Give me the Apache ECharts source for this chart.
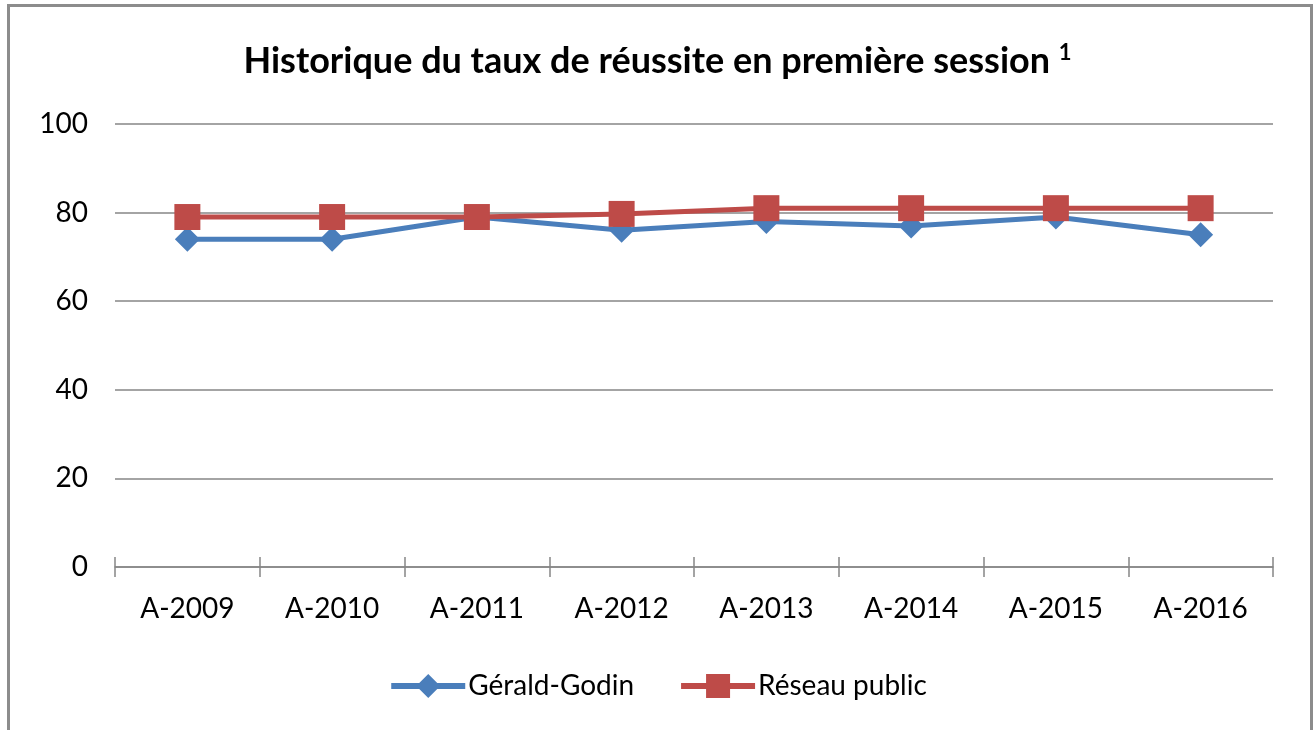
<!DOCTYPE html>
<html>
<head>
<meta charset="utf-8">
<script src="https://cdn.jsdelivr.net/npm/echarts@6/dist/echarts.min.js"></script>
<style>
  html, body { margin: 0; padding: 0; background: #fff; }
  .frame {
    position: absolute;
    left: 7px;
    top: 4px;
    width: 1306px;
    height: 740px;
    border: 3px solid #8c8c8c;
    box-sizing: border-box;
  }
  #main { position: absolute; left: 0; top: 0; width: 1315px; height: 730px; }
</style>
</head>
<body>
<div class="frame"></div>
<div id="main"></div>
<script>
  // données
  const categories = ['A-2009', 'A-2010', 'A-2011', 'A-2012', 'A-2013', 'A-2014', 'A-2015', 'A-2016']
  const geraldGodin = [74, 74, 79, 76, 78, 77, 79, 75]
  const reseauPublic = [79, 79, 79, 79.7, 81, 81, 81, 81]
  const yTicks = [0, 20, 40, 60, 80, 100]

  const font = 'Lato, "Open Sans", sans-serif'
  const myChart = echarts.init(document.getElementById('main'))

  const option = {
    animation: false,
    textStyle: { fontFamily: font },
    title: {
      text: '{t|Historique du taux de réussite en première session }{s|1}',
      left: 'center',
      top: 37,
      textStyle: {
        rich: {
          t: { fontFamily: font, fontSize: 36, fontWeight: 'bold', color: '#000' },
          s: { fontFamily: font, fontSize: 22, fontWeight: 'bold', color: '#000', verticalAlign: 'top', padding: [0, 0, 16, 0] }
        }
      }
    },
    legend: {
      bottom: 25,
      left: 'center',
      itemWidth: 74,
      itemHeight: 30,
      itemGap: 44,
      textStyle: { fontFamily: font, fontSize: 28, color: '#000', padding: [0, 0, 0, -2] },
      data: [
        { name: 'Gérald-Godin', lineStyle: { width: 6 } },
        { name: 'Réseau public', lineStyle: { width: 6 } }
      ]
    },
    grid: { left: 115, right: 42, top: 124, bottom: 163 },
    xAxis: [
      {
        type: 'category',
        data: categories,
        boundaryGap: true,
        axisLine: { lineStyle: { color: '#868686', width: 1.5 } },
        axisTick: { show: true, length: 10, interval: 0, lineStyle: { color: '#868686', width: 1.5 } },
        axisLabel: { fontFamily: font, fontSize: 28, color: '#000', margin: 28 }
      },
      {
        // petits traits au-dessus de l'axe
        type: 'category',
        data: categories,
        position: 'bottom',
        boundaryGap: true,
        axisLine: { show: false },
        axisTick: { show: true, inside: true, length: 10, interval: 0, lineStyle: { color: '#868686', width: 1.5 } },
        axisLabel: { show: false }
      }
    ],
    yAxis: {
      type: 'value',
      min: yTicks[0],
      max: yTicks[yTicks.length - 1],
      interval: 20,
      axisLine: { show: false },
      axisTick: { show: false },
      axisLabel: { fontFamily: font, fontSize: 28, color: '#000', margin: 27 },
      splitLine: { lineStyle: { color: '#868686', width: 1.5 } }
    },
    series: [
      {
        name: 'Gérald-Godin',
        type: 'line',
        data: geraldGodin,
        symbol: 'diamond',
        symbolSize: 25,
        lineStyle: { color: '#4a7ebb', width: 5 },
        itemStyle: { color: '#4a7ebb' },
        z: 2
      },
      {
        name: 'Réseau public',
        type: 'line',
        data: reseauPublic,
        symbol: 'rect',
        symbolSize: 26,
        lineStyle: { color: '#be4b48', width: 5 },
        itemStyle: { color: '#be4b48' },
        z: 3
      }
    ]
  }
  myChart.setOption(option)
</script>
</body>
</html>
